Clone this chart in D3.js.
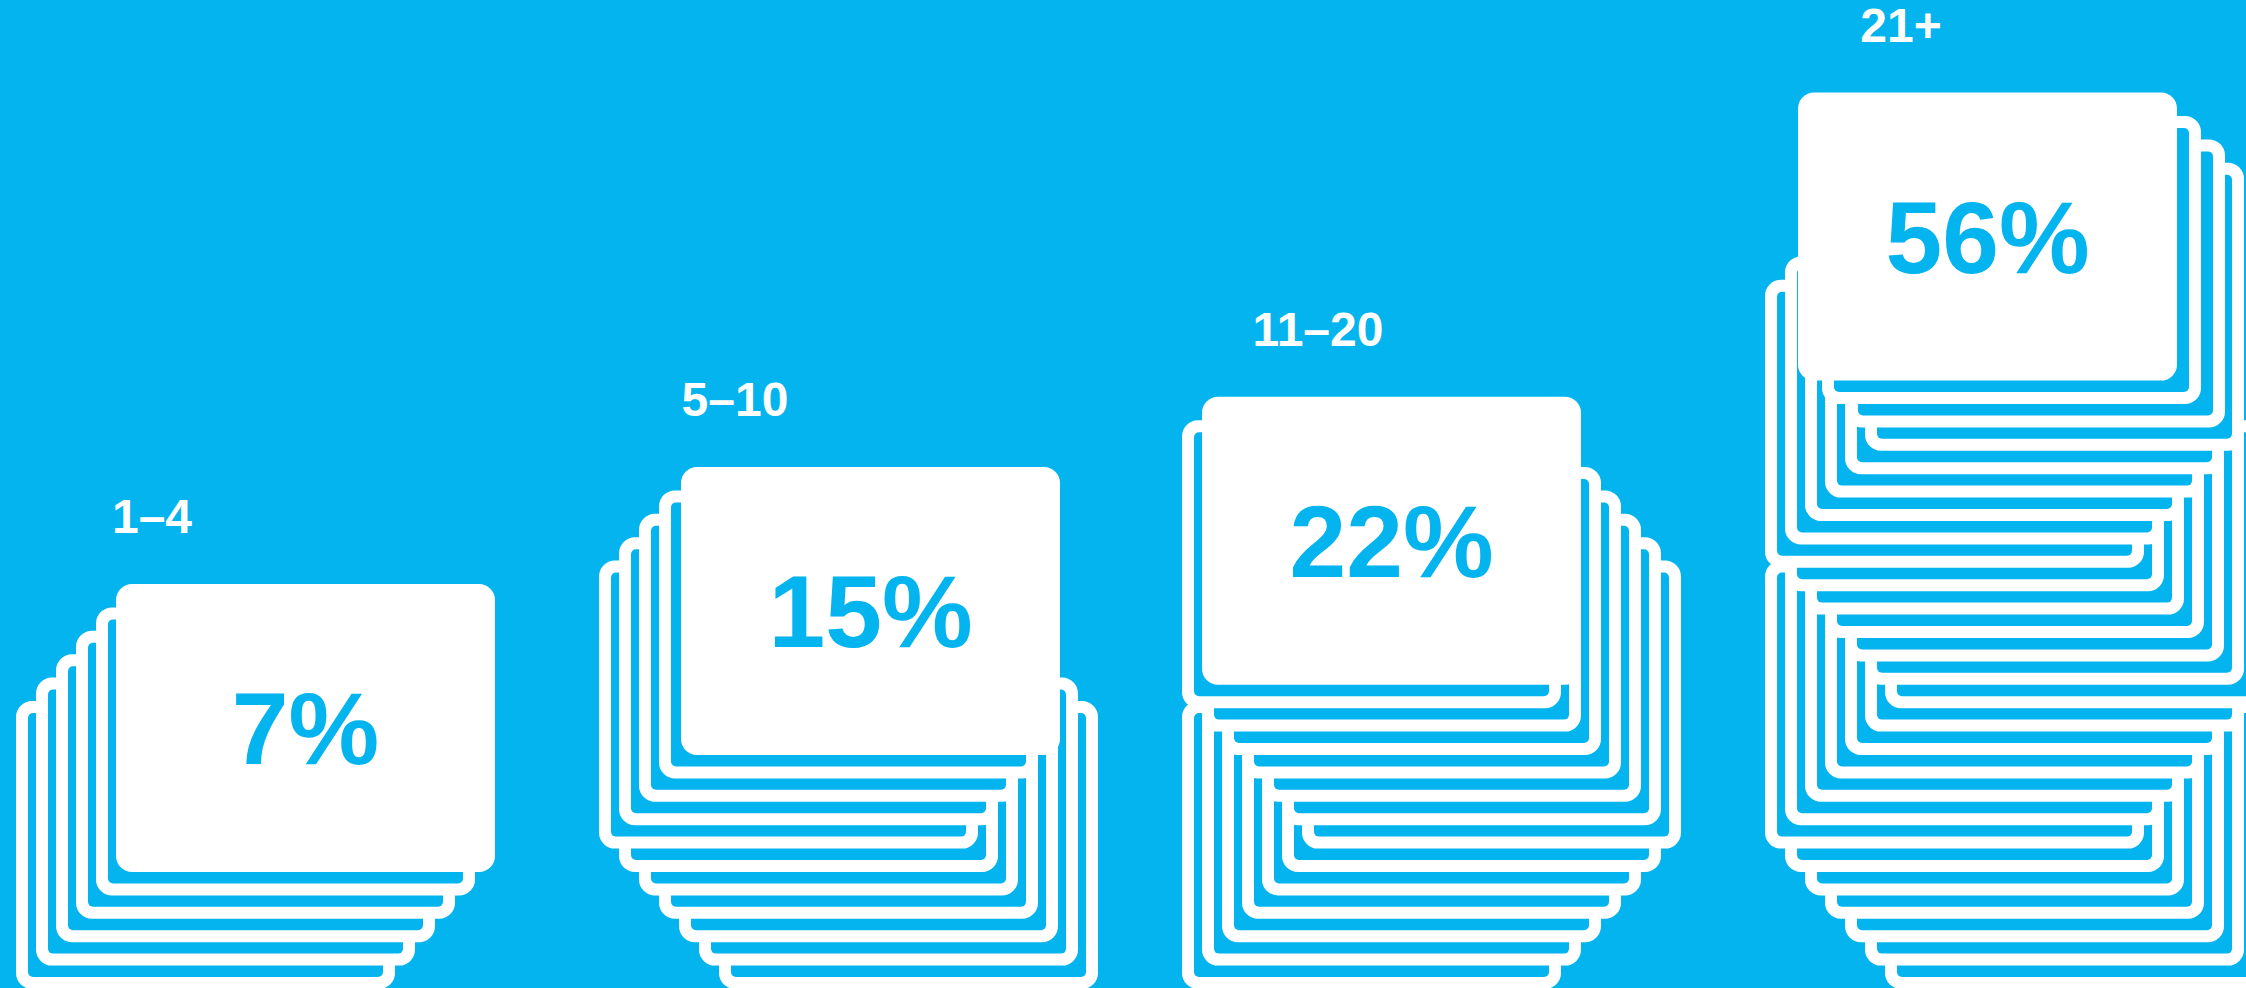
<!DOCTYPE html>
<html>
<head>
<meta charset="utf-8">
<script src="https://cdn.jsdelivr.net/npm/d3@7"></script>
<style>
  html, body { margin: 0; padding: 0; background: #03b4ef; }
  svg { display: block; }
</style>
</head>
<body>
<svg id="chart" width="2246" height="988"></svg>
<script>
// ---- data ----
const categories = ["1–4", "5–10", "11–20", "21+"];
const percentages = [7, 15, 22, 56];
const cardCounts = [6, 11, 14, 27];
// horizontal zig-zag of each pile, bottom card first (in card-step units)
const pile1 = [0, 1, 2, 3, 4, 5];
const pile2 = [6, 5, 4, 3, 2, 1, 0, 1, 2, 3, 4.1];
const pile3 = [0, 1, 2, 3, 4, 5, 6, 5, 4, 3, 2, 1, 0, 1];
const pile4 = [6, 5, 4, 3, 2, 1, 0, 1, 2, 3, 4, 5, 6, 5, 4, 3, 2, 1, 0, 1, 2, 3, 4, 5, 4.05, 2.85, 1.65];
const piles = [pile1, pile2, pile3, pile4];

// ---- layout ----
const W = 2246, H = 988;
const BLUE = "#03b4ef", WHITE = "#ffffff";
const cardW = 379, cardH = 288, rOuter = 16, border = 12, rInner = 5;
const FONT = "'Liberation Sans', Arial, Helvetica, sans-serif";

const svg = d3.select("#chart");
svg.append("rect").attr("width", W).attr("height", H).attr("fill", BLUE);

const x = d3.scalePoint().domain(categories).range([16, 1765]);
const shiftX = d3.scaleLinear().domain([0, 6]).range([0, 120]);
const levelY = d3.scaleLinear().domain([0, 26]).range([701, 92.6]);

const groups = categories.map((c, i) => ({
  cat: c,
  pct: percentages[i],
  n: cardCounts[i],
  cards: piles[i].slice(0, cardCounts[i]).map((s, b) => ({ s, b, front: b === cardCounts[i] - 1 }))
}));

const g = svg.selectAll("g.pile").data(groups).join("g").attr("class", "pile");

const card = g.selectAll("g.card")
  .data(d => d.cards.map(c => Object.assign({ cat: d.cat, pct: d.pct }, c)))
  .join("g").attr("class", "card")
  .attr("transform", d => `translate(${x(d.cat) + shiftX(d.s)},${levelY(d.b)})`);

card.append("rect")
  .attr("width", cardW).attr("height", cardH)
  .attr("rx", rOuter).attr("ry", rOuter)
  .attr("fill", WHITE);

card.filter(d => !d.front).append("rect")
  .attr("x", border).attr("y", border)
  .attr("width", cardW - 2 * border).attr("height", cardH - 2 * border)
  .attr("rx", rInner).attr("ry", rInner)
  .attr("fill", BLUE);

card.filter(d => d.front).append("text")
  .attr("x", cardW / 2).attr("y", cardH / 2 + 36)
  .attr("text-anchor", "middle")
  .attr("font-family", FONT).attr("font-weight", 700).attr("font-size", 102)
  .attr("fill", BLUE)
  .text(d => d.pct + "%");

// category labels above each pile
g.append("text")
  .attr("x", d => x(d.cat) + 136)
  .attr("y", d => levelY(d.n - 1) - 51)
  .attr("text-anchor", "middle")
  .attr("font-family", FONT).attr("font-weight", 700).attr("font-size", 48)
  .attr("fill", WHITE)
  .text(d => d.cat);
</script>
</body>
</html>
